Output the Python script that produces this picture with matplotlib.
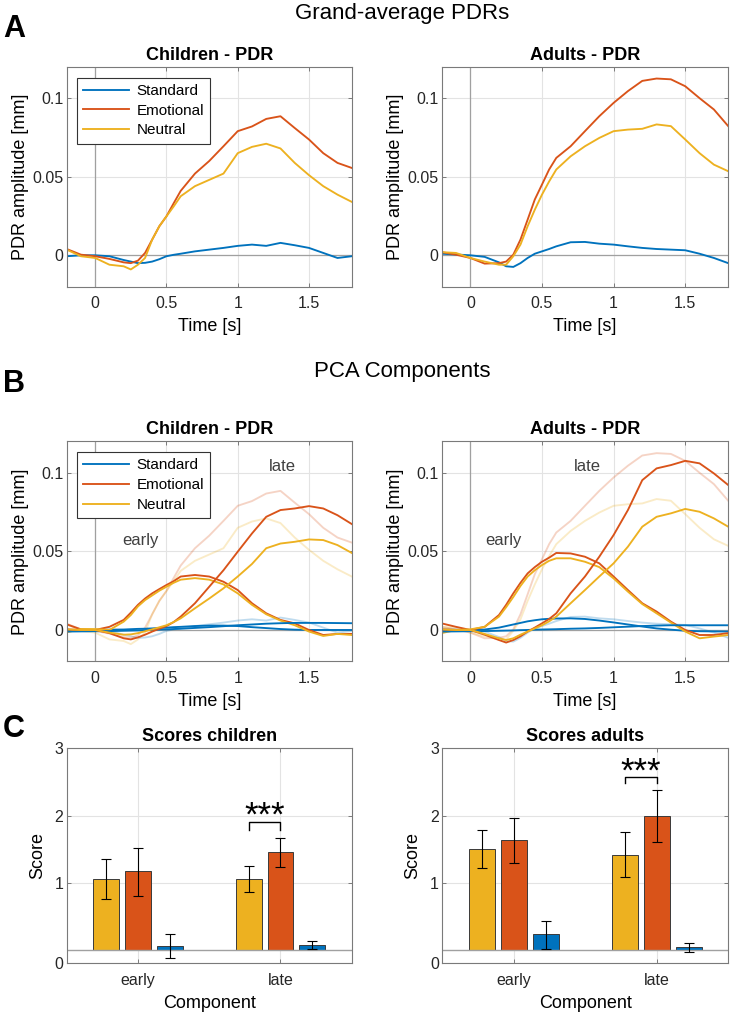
import matplotlib.pyplot as plt
import numpy as np

plt.rcParams['font.family'] = ['Liberation Sans', 'DejaVu Sans']

# time axis [s]
t = [-0.2, -0.1, 0.0, 0.1, 0.2, 0.25, 0.3, 0.35, 0.4, 0.45, 0.5, 0.55, 0.6,
     0.7, 0.8, 0.9, 1.0, 1.1, 1.2, 1.3, 1.4, 1.5, 1.6, 1.7, 1.8]

# grand-average PDRs [mm]
child_std = [-0.0006, 0.0, 0.0, -0.0006, -0.003, -0.004, -0.005, -0.0048, -0.004, -0.0025, -0.0006, 0.0003, 0.001,
             0.0025, 0.0036, 0.0047, 0.006, 0.0068, 0.006, 0.0079, 0.0064, 0.0047, 0.0015, -0.0017, -0.0006]
child_emo = [0.004, 0.0004, -0.0006, -0.0023, -0.0045, -0.005, -0.0034, 0.0015, 0.010, 0.0185, 0.0248, 0.033, 0.041,
             0.052, 0.060, 0.0694, 0.079, 0.082, 0.0868, 0.0885, 0.081, 0.0737, 0.065, 0.0588, 0.0556]
child_neu = [0.0036, -0.0006, -0.0017, -0.006, -0.007, -0.009, -0.006, -0.0017, 0.010, 0.0185, 0.0248, 0.031, 0.0376,
             0.044, 0.048, 0.052, 0.065, 0.069, 0.071, 0.068, 0.0588, 0.051, 0.044, 0.0386, 0.034]
adult_std = [0.001, 0.0005, 0.0, -0.001, -0.0045, -0.007, -0.0074, -0.005, -0.0017, 0.001, 0.0025, 0.004, 0.0057,
             0.0083, 0.0085, 0.0074, 0.0068, 0.0057, 0.0047, 0.004, 0.0036, 0.0032, 0.001, -0.0017, -0.005]
adult_emo = [0.002, 0.0004, -0.0017, -0.0053, -0.005, -0.004, 0.0004, 0.010, 0.0227, 0.0355, 0.045, 0.0546, 0.062,
             0.0694, 0.079, 0.0885, 0.097, 0.1045, 0.111, 0.1125, 0.112, 0.1076, 0.100, 0.0928, 0.0822]
adult_neu = [0.002, 0.0015, -0.0017, -0.004, -0.006, -0.006, -0.0006, 0.0068, 0.0185, 0.029, 0.0386, 0.047, 0.0546,
             0.063, 0.0694, 0.0747, 0.079, 0.080, 0.0805, 0.0833, 0.0822, 0.0737, 0.065, 0.0577, 0.0535]

# PCA components, children
c_early_emo = [0.0036, 0.0004, 0.0, 0.002, 0.0064, 0.011, 0.016, 0.020, 0.0233, 0.026, 0.0286, 0.031, 0.034,
               0.035, 0.034, 0.0307, 0.0254, 0.017, 0.0106, 0.0064, 0.0042, 0.0, -0.0032, -0.0025, -0.0025]
c_early_neu = [-0.0015, 0.0006, 0.0006, 0.0, 0.0053, 0.0095, 0.015, 0.019, 0.022, 0.025, 0.0275, 0.030, 0.032,
               0.033, 0.032, 0.029, 0.0233, 0.016, 0.010, 0.006, 0.003, -0.001, -0.0038, -0.0025, -0.0032]
c_late_emo = [0.0004, 0.0, 0.0, -0.002, -0.0053, -0.006, -0.0047, -0.003, -0.001, 0.0008, 0.0025, 0.005, 0.0085,
              0.017, 0.0275, 0.038, 0.0498, 0.0614, 0.072, 0.0763, 0.0773, 0.0788, 0.0773, 0.073, 0.0674]
c_late_neu = [0.0004, 0.0, 0.0, -0.0017, -0.003, -0.0028, -0.002, -0.0008, 0.0004, 0.0017, 0.003, 0.005, 0.0074,
              0.0138, 0.020, 0.0265, 0.034, 0.042, 0.052, 0.055, 0.0561, 0.0576, 0.0572, 0.054, 0.049]
c_early_std = [0.0, 0.0, 0.0, 0.0002, 0.0003, 0.0005, 0.0007, 0.0008, 0.001, 0.0013, 0.0015, 0.0018, 0.002,
               0.0025, 0.0028, 0.0028, 0.0025, 0.0018, 0.0012, 0.0006, 0.0002, 0.0, 0.0, 0.0, 0.0]
c_late_std = [-0.001, -0.0009, -0.0008, -0.0007, -0.0005, -0.0004, -0.0003, -0.0001, 0.0, 0.0002, 0.0004, 0.0006, 0.0008,
              0.0013, 0.0018, 0.0024, 0.003, 0.0035, 0.004, 0.0043, 0.0045, 0.0045, 0.0045, 0.0044, 0.0043]

# PCA components, adults
a_early_emo = [0.0042, 0.002, 0.0, 0.002, 0.0095, 0.016, 0.0233, 0.030, 0.036, 0.040, 0.0434, 0.046, 0.049,
               0.0487, 0.0466, 0.0424, 0.034, 0.0254, 0.017, 0.0117, 0.0053, 0.0, -0.0032, -0.0032, -0.002]
a_early_neu = [-0.002, 0.0, 0.0004, 0.002, 0.0085, 0.0145, 0.021, 0.028, 0.034, 0.038, 0.0413, 0.044, 0.0456,
               0.0456, 0.0434, 0.040, 0.0328, 0.0244, 0.0165, 0.0106, 0.0047, -0.001, -0.0053, -0.0042, -0.0032]
a_late_emo = [0.0004, 0.0, 0.0, -0.003, -0.0064, -0.008, -0.0064, -0.004, -0.001, 0.0015, 0.0042, 0.007, 0.0106,
              0.0233, 0.034, 0.0466, 0.0604, 0.0763, 0.0953, 0.1028, 0.1049, 0.1076, 0.106, 0.0996, 0.0922]
a_late_neu = [0.0004, 0.0, 0.0, -0.0025, -0.0053, -0.0064, -0.0053, -0.003, -0.001, 0.001, 0.003, 0.0055, 0.0085,
              0.017, 0.0254, 0.034, 0.0424, 0.053, 0.0657, 0.072, 0.0742, 0.077, 0.0752, 0.071, 0.0657]
a_early_std = [0.0, 0.0, 0.0, 0.0003, 0.0015, 0.0025, 0.0035, 0.0045, 0.0055, 0.0062, 0.0068, 0.0071, 0.0073,
               0.0074, 0.0070, 0.006, 0.0048, 0.0035, 0.0022, 0.001, 0.0002, -0.0005, -0.0008, -0.0009, -0.001]
a_late_std = [-0.001, -0.0009, -0.0008, -0.0007, -0.0005, -0.0004, -0.0003, -0.0001, 0.0, 0.0002, 0.0003, 0.0004, 0.0005,
              0.0008, 0.001, 0.0013, 0.0017, 0.0021, 0.0025, 0.0028, 0.003, 0.003, 0.003, 0.003, 0.003]

# scores: order neutral, emotional, standard
components = ["early", "late"]
child_score = {"early": [1.06, 1.17, 0.06], "late": [1.05, 1.46, 0.075]}
child_lo = {"early": [0.76, 0.81, -0.12], "late": [0.86, 1.23, 0.01]}
child_hi = {"early": [1.36, 1.52, 0.24], "late": [1.25, 1.67, 0.14]}
adult_score = {"early": [1.50, 1.63, 0.23], "late": [1.42, 2.00, 0.04]}
adult_lo = {"early": [1.22, 1.30, 0.02], "late": [1.09, 1.61, -0.03]}
adult_hi = {"early": [1.78, 1.96, 0.43], "late": [1.75, 2.38, 0.10]}
sig_child = [1.78, 1.91]   # bracket foot, bracket top
sig_adult = [2.48, 2.57]

BLUE = "#0072BD"
ORANGE = "#D95319"
YELLOW = "#EDB120"
TXT = "#262626"
LW = 1.35


def style_axes(ax):
   ax.grid(True, color="#e3e3e3", lw=0.8)
   ax.set_axisbelow(True)
   for s in ax.spines.values():
      s.set_color("#7a7a7a")
      s.set_linewidth(0.8)
   ax.tick_params(direction="in", length=3, width=0.7, color="#7a7a7a",
                  labelsize=11.5, labelcolor=TXT, top=True, right=True)
   ax.tick_params(axis="x", pad=7)
   ax.tick_params(axis="y", pad=2.5)


def pdr_axes(ax, title):
   style_axes(ax)
   ax.axhline(0, color="#a0a0a0", lw=0.9, zorder=1)
   ax.axvline(0, color="#a0a0a0", lw=0.9, zorder=1)
   ax.set_xlim(-0.2, 1.8)
   ax.set_ylim(-0.02, 0.12)
   ax.set_xticks([0, 0.5, 1, 1.5])
   ax.set_xticklabels(["0", "0.5", "1", "1.5"])
   ax.set_yticks([0, 0.05, 0.1])
   ax.set_yticklabels(["0", "0.05", "0.1"])
   ax.set_xlabel("Time [s]", fontsize=13, color="k", labelpad=5)
   ax.set_ylabel("PDR amplitude [mm]", fontsize=13, color="k", labelpad=2)
   ax.set_title(title, fontsize=13, fontweight="bold", pad=5)


def add_legend(ax):
   leg = ax.legend(loc="upper left", bbox_to_anchor=(0.037, 0.95), borderaxespad=0,
                   fontsize=11, handlelength=3.0, labelspacing=0.38, handletextpad=0.5,
                   borderpad=0.4, fancybox=False, framealpha=1)
   leg.get_frame().set_edgecolor("#333333")
   leg.get_frame().set_linewidth(0.8)


fig = plt.figure(figsize=(7.31, 10.16), dpi=100)

# ---- A: grand averages
ax1 = fig.add_axes([0.0912, 0.7178, 0.39, 0.2165])
ax1.plot(t, child_std, color=BLUE, lw=LW, label="Standard")
ax1.plot(t, child_emo, color=ORANGE, lw=LW, label="Emotional")
ax1.plot(t, child_neu, color=YELLOW, lw=LW, label="Neutral")
pdr_axes(ax1, "Children - PDR")
add_legend(ax1)

ax2 = fig.add_axes([0.6042, 0.7178, 0.392, 0.2165])
ax2.plot(t, adult_std, color=BLUE, lw=LW)
ax2.plot(t, adult_emo, color=ORANGE, lw=LW)
ax2.plot(t, adult_neu, color=YELLOW, lw=LW)
pdr_axes(ax2, "Adults - PDR")

# ---- B: PCA components
ax3 = fig.add_axes([0.0912, 0.349, 0.39, 0.2166])
for y, c in [(child_std, BLUE), (child_emo, ORANGE), (child_neu, YELLOW)]:
   ax3.plot(t, y, color=c, lw=LW, alpha=0.25)
ax3.plot(t, c_early_std, color=BLUE, lw=LW, label="Standard")
ax3.plot(t, c_early_emo, color=ORANGE, lw=LW, label="Emotional")
ax3.plot(t, c_early_neu, color=YELLOW, lw=LW, label="Neutral")
ax3.plot(t, c_late_std, color=BLUE, lw=LW)
ax3.plot(t, c_late_emo, color=ORANGE, lw=LW)
ax3.plot(t, c_late_neu, color=YELLOW, lw=LW)
pdr_axes(ax3, "Children - PDR")
add_legend(ax3)
ax3.text(0.32, 0.057, "early", fontsize=12, color="#404040", ha="center", va="center")
ax3.text(1.31, 0.104, "late", fontsize=12, color="#404040", ha="center", va="center")

ax4 = fig.add_axes([0.6042, 0.349, 0.392, 0.2166])
for y, c in [(adult_std, BLUE), (adult_emo, ORANGE), (adult_neu, YELLOW)]:
   ax4.plot(t, y, color=c, lw=LW, alpha=0.25)
ax4.plot(t, a_early_std, color=BLUE, lw=LW)
ax4.plot(t, a_early_emo, color=ORANGE, lw=LW)
ax4.plot(t, a_early_neu, color=YELLOW, lw=LW)
ax4.plot(t, a_late_std, color=BLUE, lw=LW)
ax4.plot(t, a_late_emo, color=ORANGE, lw=LW)
ax4.plot(t, a_late_neu, color=YELLOW, lw=LW)
pdr_axes(ax4, "Adults - PDR")
ax4.text(0.23, 0.057, "early", fontsize=12, color="#404040", ha="center", va="center")
ax4.text(0.82, 0.104, "late", fontsize=12, color="#404040", ha="center", va="center")


# ---- C: scores
def score_axes(ax, title, score, lo, hi, sig):
   style_axes(ax)
   offs = [-0.223, 0.0, 0.223]
   cols = [YELLOW, ORANGE, BLUE]
   for g, comp in enumerate(components):
      for k in range(3):
         x = g + 1 + offs[k]
         v = score[comp][k]
         ax.bar(x, v, width=0.18, color=cols[k], edgecolor="#3a3a3a", lw=0.7, zorder=2)
         ax.errorbar(x, v, yerr=[[v - lo[comp][k]], [hi[comp][k] - v]], fmt="none",
                     ecolor="k", elinewidth=0.8, capsize=3.5, capthick=0.8, zorder=3)
   ax.axhline(0, color="#a0a0a0", lw=1.0, zorder=2.5)
   x1, x2 = 2 + offs[0], 2 + offs[1]
   ax.plot([x1, x1, x2, x2], [sig[0], sig[1], sig[1], sig[0]], color="k", lw=1.0)
   ax.text((x1 + x2) / 2, sig[1] - 0.17, "***", fontsize=25, ha="center", va="bottom")
   ax.set_xlim(0.5, 2.5)
   ax.set_ylim(-0.2, 3)
   ax.set_xticks([1, 2])
   ax.set_xticklabels(components)
   ax.set_yticks([-0.2, 1, 2, 3])
   ax.set_yticklabels(["0", "1", "2", "3"])
   ax.set_xlabel("Component", fontsize=13, color="k", labelpad=5)
   ax.set_ylabel("Score", fontsize=13, color="k", labelpad=6)
   ax.set_title(title, fontsize=13, fontweight="bold", pad=5)


ax5 = fig.add_axes([0.0912, 0.0518, 0.39, 0.2116])
score_axes(ax5, "Scores children", child_score, child_lo, child_hi, sig_child)
ax6 = fig.add_axes([0.6051, 0.0518, 0.3912, 0.2116])
score_axes(ax6, "Scores adults", adult_score, adult_lo, adult_hi, sig_adult)

# headings and panel letters
fig.text(0.55, 0.987, "Grand-average PDRs", fontsize=16, ha="center", va="center")
fig.text(0.55, 0.634, "PCA Components", fontsize=16, ha="center", va="center")
fig.text(0.004, 0.971, "A", fontsize=22, fontweight="bold", va="center")
fig.text(0.004, 0.622, "B", fontsize=22, fontweight="bold", va="center")
fig.text(0.004, 0.282, "C", fontsize=22, fontweight="bold", va="center")

fig.savefig("out.png", dpi=100)
